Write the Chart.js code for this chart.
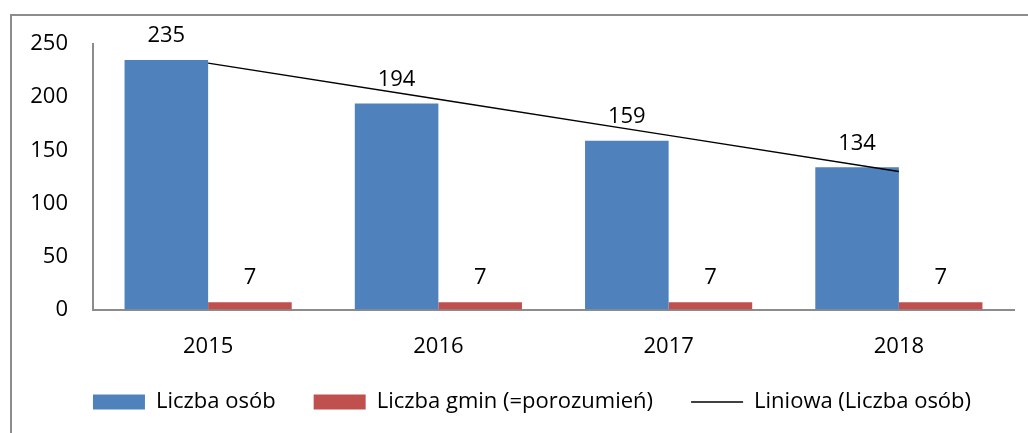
<!DOCTYPE html>
<html>
<head>
<meta charset="utf-8">
<script src="https://cdn.jsdelivr.net/npm/chart.js@4.4.1/dist/chart.umd.min.js"></script>
<style>
  html, body { margin: 0; padding: 0; background: #fff; }
  #box {
    position: absolute; left: 10px; top: 14px;
    width: 1018px; height: 419px;
    border-top: 2px solid #8c8c8c; border-left: 2px solid #8c8c8c;
    box-sizing: border-box;
  }
</style>
</head>
<body>
<div id="box"><canvas id="chart"></canvas></div>
<script>
// values
let years = ["2015", "2016", "2017", "2018"];
let osoby = [235, 194, 159, 134];
let gminy = [7, 7, 7, 7];
let trend = [232, 198, 164, 130];
let yTicks = [0, 50, 100, 150, 200, 250];

let font = "'Open Sans', sans-serif";

// draws the numbers above the bars
let valueLabels = {
    id: "valueLabels",
    afterDatasetsDraw: function (chart) {
        let ctx = chart.ctx;
        ctx.save();
        ctx.fillStyle = "#000";
        ctx.font = "22px " + font;
        ctx.textAlign = "center";
        ctx.textBaseline = "middle";
        [0, 1].forEach(function (i) {
            let meta = chart.getDatasetMeta(i);
            meta.data.forEach(function (bar, j) {
                ctx.fillText(chart.data.datasets[i].data[j], bar.x, bar.y - 24);
            });
        });
        ctx.restore();
    }
};

// legend sits a bit right of centre in the original
let legendShift = {
    id: "legendShift",
    afterLayout: function (chart) {
        chart.legend.left += 19;
        chart.legend.right += 19;
    }
};

let canvas = document.getElementById("chart");
canvas.width = 1016;
canvas.height = 417;

let display = new Chart(canvas.getContext("2d"), {
    type: "bar",
    data: {
        labels: years,
        datasets: [
            {
                label: "Liczba osób",
                data: osoby,
                backgroundColor: "#4F81BD",
                borderWidth: 0,
                pointStyle: "rect",
                order: 2
            },
            {
                label: "Liczba gmin (=porozumień)",
                data: gminy,
                backgroundColor: "#C0504D",
                borderWidth: 0,
                pointStyle: "rect",
                order: 2
            },
            {
                type: "line",
                label: "Liniowa (Liczba osób)",
                data: trend,
                borderColor: "#000",
                backgroundColor: "#000",
                borderWidth: 1.5,
                pointRadius: 0,
                pointStyle: "line",
                order: 1
            }
        ]
    },
    options: {
        responsive: false,
        animation: false,
        layout: { padding: { left: 0, right: 14, top: 28, bottom: 10 } },
        datasets: {
            bar: { categoryPercentage: 0.726, barPercentage: 1 }
        },
        scales: {
            x: {
                grid: { display: false, drawTicks: false },
                border: { color: "#8c8c8c", width: 2 },
                ticks: { color: "#000", font: { family: font, size: 22 }, padding: 24 },
                afterFit: function (scale) { scale.height -= 31; }
            },
            y: {
                min: 0,
                max: 250,
                afterBuildTicks: function (scale) {
                    scale.ticks = yTicks.map(function (v) { return { value: v }; });
                },
                afterFit: function (scale) { scale.width = 81; scale.paddingTop = 0; },
                grid: { display: false, drawTicks: false },
                border: { color: "#8c8c8c", width: 2 },
                ticks: { color: "#000", font: { family: font, size: 22 }, padding: 25 }
            }
        },
        plugins: {
            tooltip: { enabled: false },
            legend: {
                position: "bottom",
                labels: {
                    color: "#000",
                    font: { family: font, size: 22 },
                    usePointStyle: true,
                    pointStyleWidth: 52,
                    boxHeight: 15,
                    padding: 38,
                    sort: function (a, b) { return a.datasetIndex - b.datasetIndex; },
                    generateLabels: function (chart) {
                        let items = Chart.defaults.plugins.legend.labels.generateLabels(chart);
                        items.forEach(function (item) {
                            let ds = chart.data.datasets[item.datasetIndex];
                            item.pointStyle = ds.pointStyle;
                            if (ds.type === "line") {
                                item.lineWidth = 1.5;
                                item.strokeStyle = "#000";
                            }
                        });
                        return items;
                    }
                }
            }
        }
    },
    plugins: [valueLabels, legendShift]
});
</script>
</body>
</html>
